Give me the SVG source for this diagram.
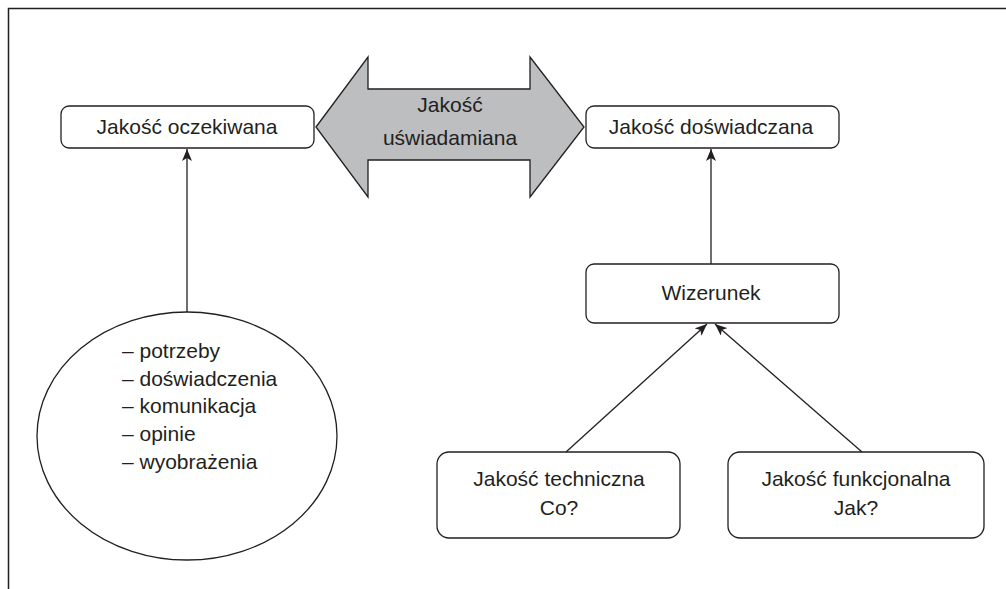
<svg xmlns="http://www.w3.org/2000/svg" width="1006" height="589" viewBox="0 0 1006 589">
<style>
.box{fill:#fff;stroke:#231f20;stroke-width:1.3}
.t{font-family:"Liberation Sans",Arial,sans-serif;font-size:21px;fill:#231f20;text-anchor:middle}
.tl{font-family:"Liberation Sans",Arial,sans-serif;font-size:21px;fill:#231f20}
.c{stroke:#231f20;stroke-width:1.3;fill:none;marker-end:url(#ah)}
</style>
<defs>
<marker id="ah" viewBox="0 0 12 10" refX="12" refY="5" markerWidth="12" markerHeight="10" markerUnits="userSpaceOnUse" orient="auto">
<path d="M0,0 L12,5 L0,10 L3,5 Z" fill="#231f20"/>
</marker>
</defs>
<rect width="1006" height="589" fill="#fff"/>
<path d="M8.5,589 V8.5 H1006" fill="none" stroke="#231f20" stroke-width="1.5"/>
<g id="arrow-uswiadamiana">
<polygon points="316,127 368,57 368,89 530,89 530,57 584,127 530,197 530,160 368,160 368,197" fill="#bcbec0" stroke="#231f20" stroke-width="1.3"/>
<text class="t" x="450" y="112">Jakość</text>
<text class="t" x="450" y="145">uświadamiana</text>
</g>
<g id="oczekiwana">
<rect class="box" x="61" y="106" width="253" height="42" rx="8"/>
<text class="t" x="187" y="134">Jakość oczekiwana</text>
</g>
<g id="doswiadczana">
<rect class="box" x="586" y="106" width="253" height="42" rx="8"/>
<text class="t" x="711" y="134">Jakość doświadczana</text>
</g>
<g id="czynniki">
<ellipse cx="187" cy="436" rx="150" ry="124" fill="#fff" stroke="#231f20" stroke-width="1.3"/>
<text class="tl" x="122" y="358">– potrzeby</text>
<text class="tl" x="122" y="386">– doświadczenia</text>
<text class="tl" x="122" y="413">– komunikacja</text>
<text class="tl" x="122" y="441">– opinie</text>
<text class="tl" x="122" y="469">– wyobrażenia</text>
</g>
<g id="wizerunek">
<rect class="box" x="586" y="264" width="253" height="59" rx="8"/>
<text class="t" x="711" y="300">Wizerunek</text>
</g>
<g id="techniczna">
<rect class="box" x="437" y="452" width="243" height="86" rx="12"/>
<text class="t" x="559" y="486">Jakość techniczna</text>
<text class="t" x="559" y="515">Co?</text>
</g>
<g id="funkcjonalna">
<rect class="box" x="728" y="452" width="256" height="86" rx="12"/>
<text class="t" x="856" y="486">Jakość funkcjonalna</text>
<text class="t" x="856" y="515">Jak?</text>
</g>
<g id="connectors">
<line class="c" x1="187" y1="312" x2="187" y2="149"/>
<line class="c" x1="711" y1="264" x2="711" y2="149"/>
<line class="c" x1="566" y1="452" x2="707" y2="324"/>
<line class="c" x1="862" y1="452" x2="715" y2="324"/>
</g>
</svg>
